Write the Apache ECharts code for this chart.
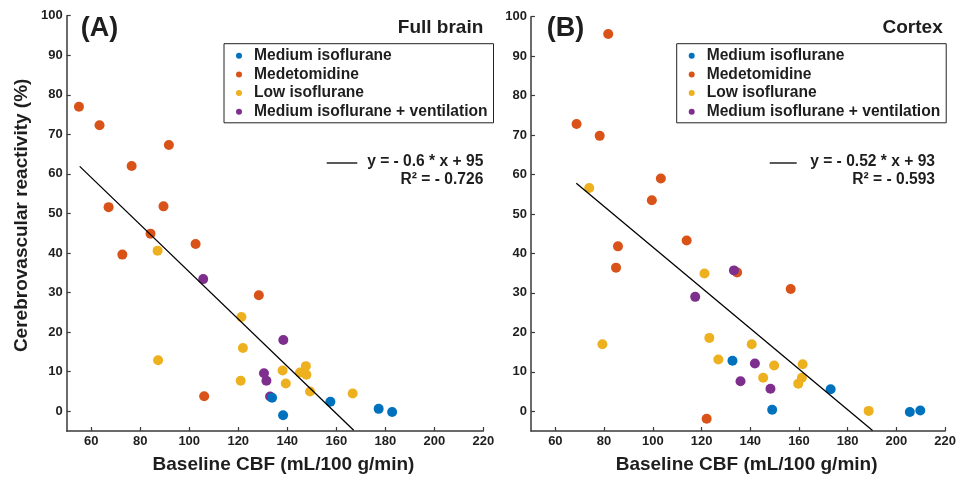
<!DOCTYPE html>
<html>
<head>
<meta charset="utf-8">
<script src="https://cdn.jsdelivr.net/npm/echarts@6/dist/echarts.min.js"></script>
<style>
html,body{margin:0;padding:0;background:#fff;}
#chart{width:959px;height:479px;}
</style>
</head>
<body>
<div id="chart"></div>
<script>
// ---- data ----
const groupNames = ['Medium isoflurane', 'Medetomidine', 'Low isoflurane', 'Medium isoflurane + ventilation'];
const xTicks = [60, 80, 100, 120, 140, 160, 180, 200, 220];
const yTicks = [0, 10, 20, 30, 40, 50, 60, 70, 80, 90, 100];

// Panel A: Full brain  [baseline CBF, reactivity]
const medIsoA = [[133.8,3.4],[138.3,-1.0],[157.6,2.4],[177.3,0.6],[182.8,-0.2]];
const medetA  = [[55.0,77.0],[63.4,72.3],[91.7,67.3],[76.5,62.0],[67.1,51.6],[89.5,51.8],[84.2,44.9],[72.7,39.6],[102.6,42.3],[128.4,29.3],[106.1,3.8]];
const lowIsoA = [[87.1,40.6],[121.3,23.8],[121.9,16.0],[87.3,12.9],[121.0,7.7],[138.1,10.3],[139.4,7.0],[145.2,9.8],[147.6,11.4],[147.8,9.2],[149.3,5.0],[166.7,4.5]];
const ventA   = [[105.7,33.4],[138.4,18.0],[130.5,9.6],[131.5,7.7],[133.0,3.7]];
const fitA    = [[55.3,61.9],[167.1,-4.8]];

// Panel B: Cortex
const medIsoB = [[132.7,12.8],[173.0,5.6],[149.0,0.4],[205.5,-0.2],[209.8,0.2]];
const medetB  = [[81.7,95.6],[68.7,72.8],[78.2,69.8],[103.3,59.0],[99.6,53.5],[113.9,43.3],[85.7,41.8],[84.9,36.4],[134.6,35.2],[156.6,31.0],[122.1,-1.9]];
const lowIsoB = [[73.9,56.6],[121.2,34.9],[123.2,18.6],[79.3,17.0],[140.6,17.0],[126.9,13.1],[149.8,11.6],[161.5,11.9],[145.3,8.5],[161.2,8.5],[159.7,7.0],[188.6,0.1]];
const ventB   = [[133.3,35.7],[117.4,29.0],[141.9,12.1],[136.0,7.6],[148.3,5.7]];
const fitB    = [[68.6,57.8],[190.2,-4.9]];

const eqA = ['y = - 0.6 * x + 95', 'R\u00B2 = - 0.726'];
const eqB = ['y = - 0.52 * x + 93', 'R\u00B2 = - 0.593'];

// ---- style ----
const colors = ['#0072BD', '#D95319', '#EDB120', '#7E2F8E'];
const FONT = '"Liberation Sans", Arial, Helvetica, sans-serif';
const TXT = '#1e1e1e';
const AX = '#3a3a3a';

const chart = echarts.init(document.getElementById('chart'), null, {renderer: 'canvas'});

function xAxis(idx) {
  return {
    type: 'value', gridIndex: idx, min: 50, max: 220,
    name: 'Baseline CBF (mL/100 g/min)', nameLocation: 'middle', nameGap: 24,
    nameTextStyle: {fontFamily: FONT, fontWeight: 'bold', fontSize: 19, color: TXT, padding: [0, 0, 0, 17]},
    axisLine: {show: true, onZero: false, lineStyle: {color: AX, width: 1.5}},
    axisTick: {show: true, inside: true, length: 4, customValues: xTicks, lineStyle: {color: AX, width: 1.2}},
    axisLabel: {customValues: xTicks, margin: 4, fontFamily: FONT, fontWeight: 'bold', fontSize: 13, color: TXT},
    splitLine: {show: false}
  };
}
function yAxis(idx, withName) {
  const a = {
    type: 'value', gridIndex: idx, min: -5, max: 100,
    axisLine: {show: true, onZero: false, lineStyle: {color: AX, width: 1.5}},
    axisTick: {show: true, inside: true, length: 4, customValues: yTicks, lineStyle: {color: AX, width: 1.2}},
    axisLabel: {customValues: yTicks, margin: 4, fontFamily: FONT, fontWeight: 'bold', fontSize: 13, color: TXT},
    splitLine: {show: false}
  };
  if (withName) {
    a.name = 'Cerebrovascular reactivity (%)';
    a.nameLocation = 'middle';
    a.nameGap = 35;
    a.nameTextStyle = {fontFamily: FONT, fontWeight: 'bold', fontSize: 19, color: TXT, padding: [0, 0, 0, 16]};
  }
  return a;
}

function scatter(name, data, ci, idx) {
  return {
    type: 'scatter', name: name, data: data, xAxisIndex: idx, yAxisIndex: idx,
    symbol: 'circle', symbolSize: 10,
    itemStyle: {color: colors[ci], opacity: 1},
    emphasis: {disabled: true}, z: 3
  };
}
function fitLine(data, idx) {
  return {
    type: 'line', data: data, xAxisIndex: idx, yAxisIndex: idx,
    symbol: 'none', lineStyle: {color: '#000', width: 1.3}, silent: true, z: 4
  };
}

function legend(left) {
  return {
    orient: 'vertical', left: left, top: 43.7,
    data: groupNames,
    icon: 'circle', itemWidth: 6, itemHeight: 6, itemGap: 0.7,
    padding: [3, 6, 2, 12],
    borderColor: '#222', borderWidth: 1, borderRadius: 0,
    selectedMode: false,
    textStyle: {fontFamily: FONT, fontWeight: 'bold', fontSize: 15.6, color: TXT, lineHeight: 18, padding: [0, 0, 0, 7]}
  };
}

function panelGraphics(letterX, titleRight, titleText, lineX1, lineX2, eqRight, eq, letter) {
  const ts = (txt, x, y, size, align) => ({
    type: 'text', x: x, y: y, silent: true,
    style: {text: txt, fontFamily: FONT, fontWeight: 'bold', fontSize: size, fill: TXT, textAlign: align, textVerticalAlign: 'middle'}
  });
  return [
    ts(letter, letterX, 28.5, 27, 'left'),
    ts(titleText, titleRight, 28, 19, 'right'),
    {type: 'line', silent: true, shape: {x1: lineX1, y1: 163, x2: lineX2, y2: 163}, style: {stroke: '#000', lineWidth: 1.3}},
    ts(eq[0], eqRight, 161.5, 15.6, 'right'),
    ts(eq[1], eqRight, 179.5, 15.6, 'right')
  ];
}

const option = {
  animation: false,
  backgroundColor: '#fff',
  grid: [
    {left: 66.7, top: 15.7, width: 416.6, height: 417, containLabel: false},
    {left: 531, top: 16.7, width: 417.3, height: 416, containLabel: false}
  ],
  xAxis: [xAxis(0), xAxis(1)],
  yAxis: [yAxis(0, true), yAxis(1, false)],
  legend: [legend(224), legend(676.7)],
  series: [
    scatter(groupNames[1], medetA, 1, 0),
    scatter(groupNames[2], lowIsoA, 2, 0),
    scatter(groupNames[3], ventA, 3, 0),
    scatter(groupNames[0], medIsoA, 0, 0),
    fitLine(fitA, 0),
    scatter(groupNames[1], medetB, 1, 1),
    scatter(groupNames[2], lowIsoB, 2, 1),
    scatter(groupNames[3], ventB, 3, 1),
    scatter(groupNames[0], medIsoB, 0, 1),
    fitLine(fitB, 1)
  ],
  graphic: [].concat(
    panelGraphics(80.7, 483.3, 'Full brain', 326.7, 357.3, 483.3, eqA, '(A)'),
    panelGraphics(546.7, 942.7, 'Cortex', 769.7, 796.7, 935, eqB, '(B)')
  )
};
chart.setOption(option);
</script>
</body>
</html>
